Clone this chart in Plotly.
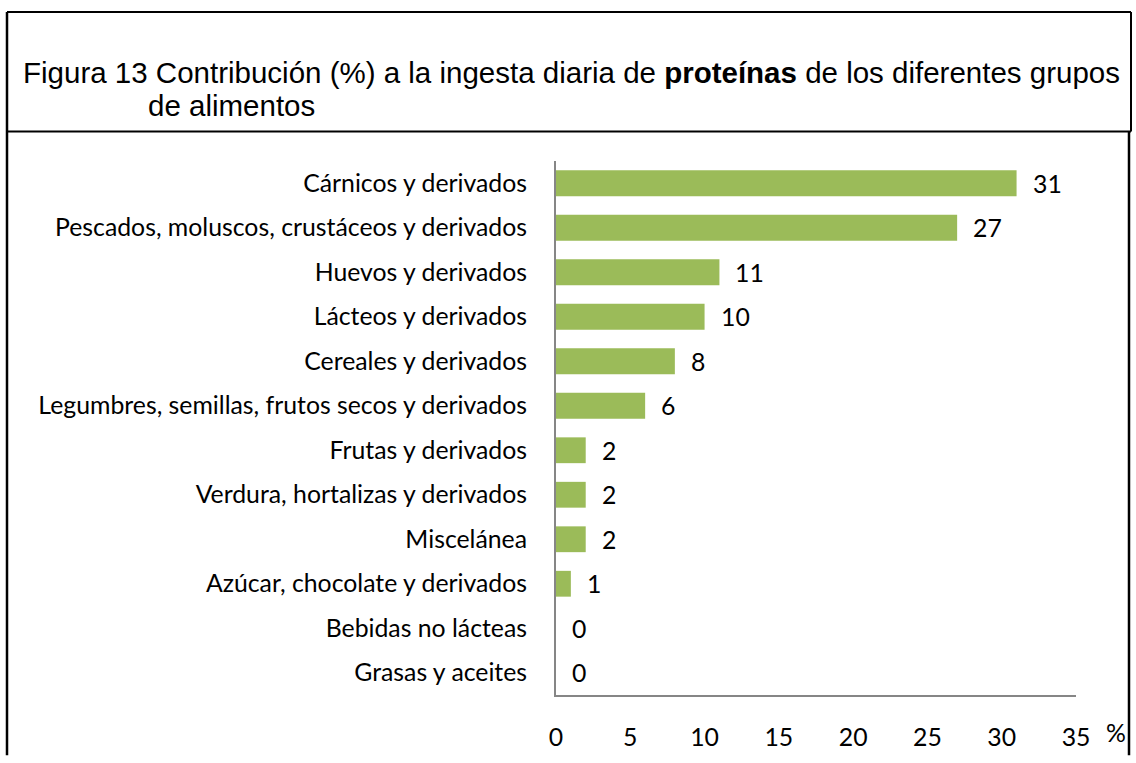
import plotly.graph_objects as go

categorias = [
    "Cárnicos y derivados",
    "Pescados, moluscos, crustáceos y derivados",
    "Huevos y derivados",
    "Lácteos y derivados",
    "Cereales y derivados",
    "Legumbres, semillas, frutos secos y derivados",
    "Frutas y derivados",
    "Verdura, hortalizas y derivados",
    "Miscelánea",
    "Azúcar, chocolate y derivados",
    "Bebidas no lácteas",
    "Grasas y aceites",
]
valores = [31, 27, 11, 10, 8, 6, 2, 2, 2, 1, 0, 0]
ticks_x = [0, 5, 10, 15, 20, 25, 30, 35]

W, H = 1136, 763
# plot area in pixels
X0, X1, Y0, Y1 = 556, 1076, 161, 702


def px(x):
    return (x - X0) / (X1 - X0)


def py(y):
    return (Y1 - y) / (Y1 - Y0)


fuente = "Lato"
tam = 24.8
verde = "#9BBB59"

fig = go.Figure()
fig.add_trace(go.Bar(
    x=valores, y=categorias, orientation="h",
    marker=dict(color=verde, line=dict(width=0)),
    showlegend=False, hoverinfo="x+y",
))

# etiquetas de valor
for c, v in zip(categorias, valores):
    fig.add_annotation(x=v, y=c, text=str(v), showarrow=False,
                       xanchor="left", xshift=14,
                       font=dict(family=fuente, size=tam, color="black"))

# titulo
fig.add_annotation(xref="paper", yref="paper", x=px(21), y=py(71),
                   xanchor="left", yanchor="middle", showarrow=False,
                   text="Figura 13 Contribución (%) a la ingesta diaria de <b>proteínas</b> de los diferentes grupos",
                   font=dict(family="Liberation Sans", size=29.5, color="black"))
fig.add_annotation(xref="paper", yref="paper", x=px(146), y=py(105),
                   xanchor="left", yanchor="middle", showarrow=False,
                   text="de alimentos",
                   font=dict(family="Liberation Sans", size=29.5, color="black"))

fig.add_annotation(xref="paper", yref="paper", x=px(1104), y=py(740),
                   xanchor="left", yanchor="middle", showarrow=False,
                   text="%", font=dict(family=fuente, size=tam, color="black"))

# marcos
lineas = [
    (7, 10, 1131, 10, 2),
    (7, 10, 7, 763, 2.5),
    (7, 131, 1131, 131, 2),
    (1131, 10, 1131, 131, 2),
    (1129, 131, 1129, 763, 2.5),
]
for xa, ya, xb, yb, w in lineas:
    fig.add_shape(type="line", xref="paper", yref="paper",
                  x0=px(xa), y0=py(ya), x1=px(xb), y1=py(yb),
                  line=dict(color="black", width=w), layer="above")

fig.update_layout(
    width=W, height=H,
    margin=dict(l=X0, r=W - X1, t=Y0, b=H - Y1, pad=0),
    plot_bgcolor="white", paper_bgcolor="white",
    bargap=0.42,
    xaxis=dict(range=[0, 35], tickvals=ticks_x, showgrid=False, zeroline=False,
               showline=True, linecolor="#868686", linewidth=2,
               ticks="outside", ticklen=19, tickcolor="rgba(0,0,0,0)",
               tickfont=dict(family=fuente, size=tam, color="black")),
    yaxis=dict(type="category", autorange="reversed", showgrid=False,
               showline=True, linecolor="#868686", linewidth=2,
               ticks="outside", ticklen=22, tickcolor="rgba(0,0,0,0)",
               tickfont=dict(family=fuente, size=tam, color="black")),
)

fig.write_html("out.html", config={"displayModeBar": False},
               post_script="document.body.style.margin='0';document.body.style.overflow='hidden';")
